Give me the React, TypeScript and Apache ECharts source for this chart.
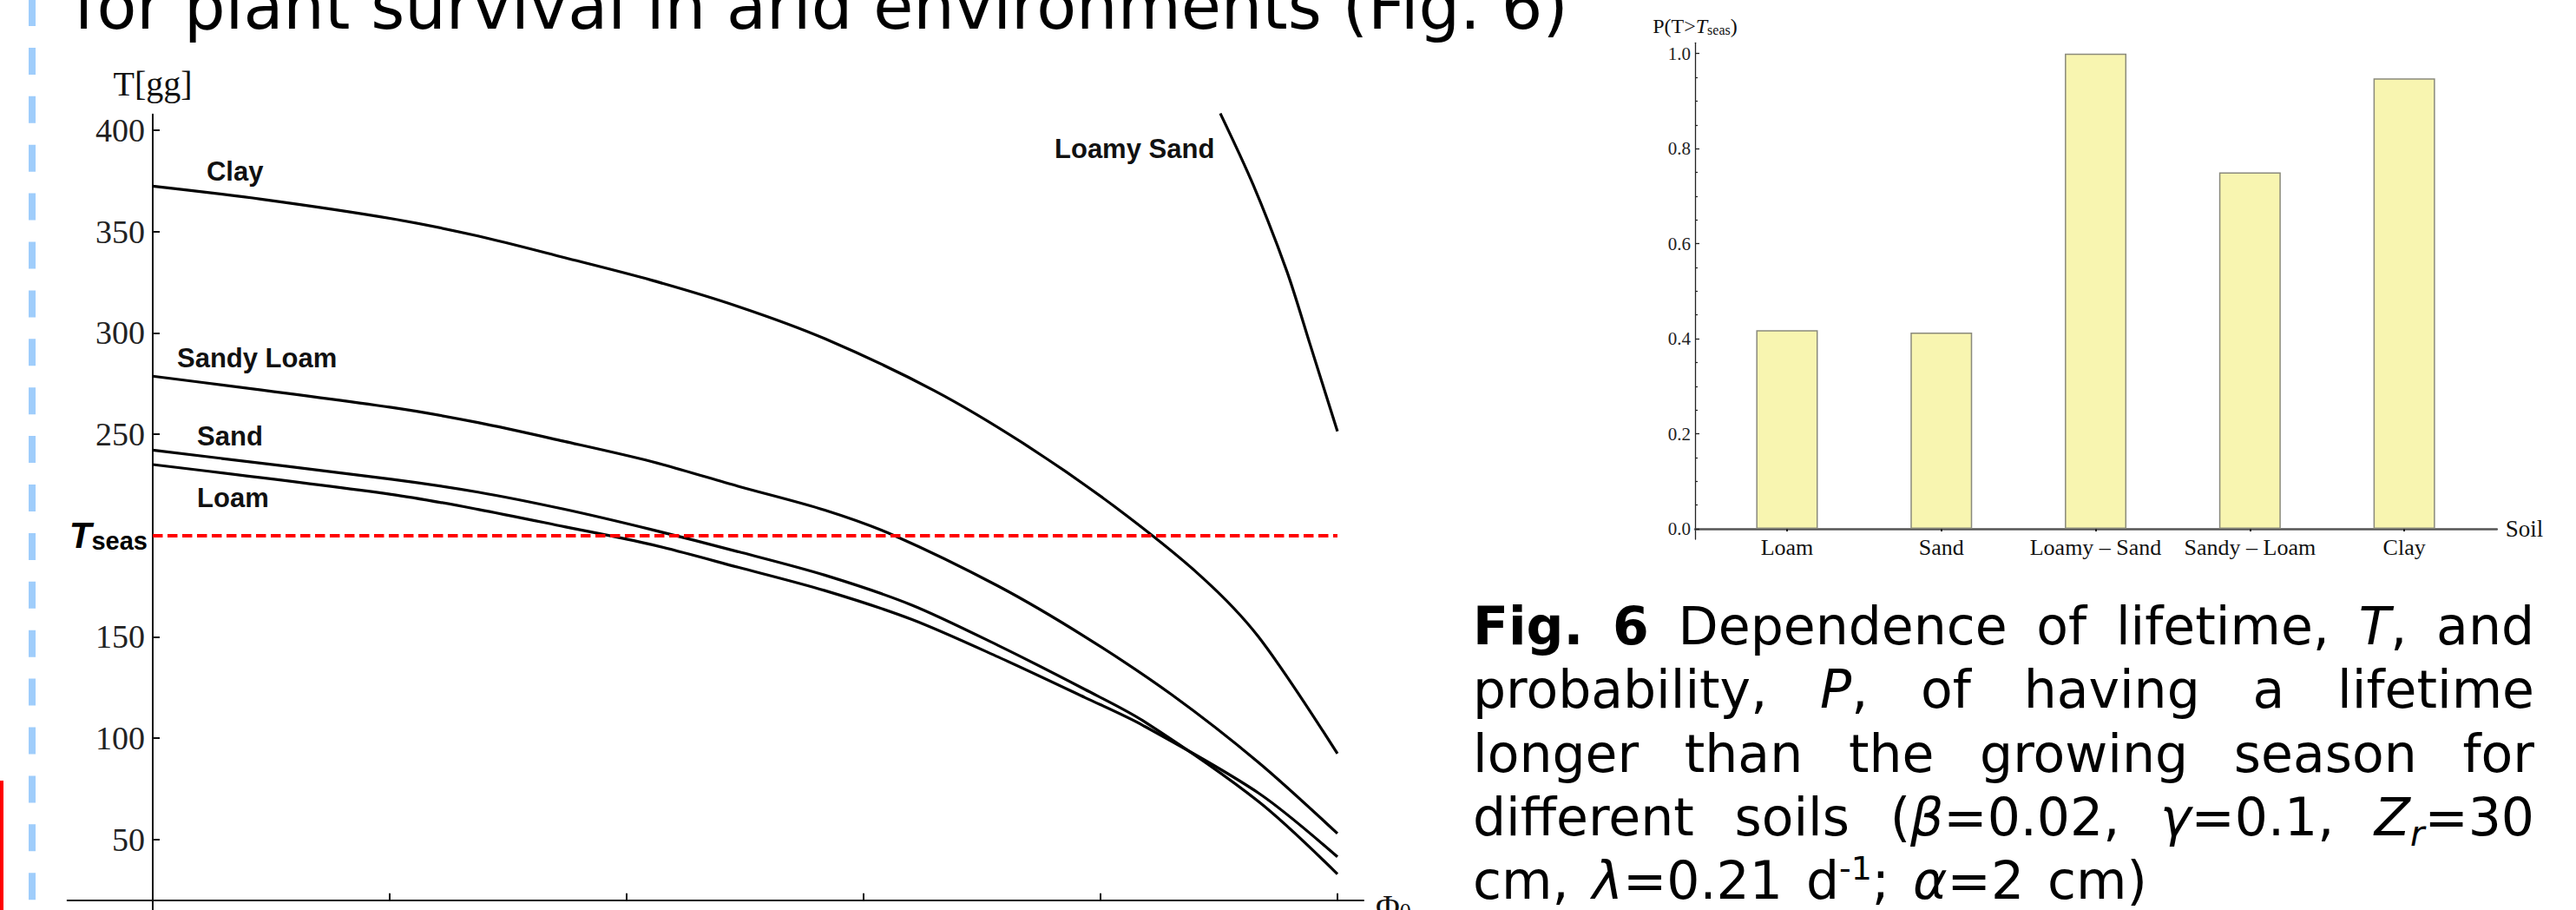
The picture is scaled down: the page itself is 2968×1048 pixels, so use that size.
import React, { useEffect, useRef } from "react";
import * as echarts from "echarts";

const FONT_SERIF = "'Liberation Serif', 'Times New Roman', serif";
const FONT_SANS = "'Liberation Sans', Arial, sans-serif";
const FONT_CAP = "'DejaVu Sans', Verdana, sans-serif";

// ---- Left panel: lifetime T [gg] vs Phi0 ----
const clay = [[0, 372.4], [0.0914, 366], [0.2013, 356.4], [0.2745, 347.8], [0.3477, 337.1], [0.4209, 326], [0.4941, 313], [0.5673, 297.1], [0.66, 271.4], [0.738, 244.3], [0.8113, 214.5], [0.8845, 180], [0.9333, 150], [1, 92.3]];
const sandyLoam = [[0, 278.6], [0.2013, 263.2], [0.2745, 255.7], [0.3477, 246.4], [0.4209, 236.5], [0.4941, 224.3], [0.5673, 212.5], [0.6258, 200], [0.7137, 175], [0.7869, 150], [0.8601, 121.4], [0.9333, 88], [1, 52.9]];
const sand = [[0, 242.1], [0.2013, 227.8], [0.2745, 221.4], [0.3477, 212.9], [0.4209, 202.9], [0.4941, 192], [0.5673, 180.4], [0.6405, 165.7], [0.7137, 145.7], [0.7869, 124], [0.8357, 108.6], [0.9333, 68.7], [1, 32.9]];
const loam = [[0, 235], [0.2013, 220.3], [0.2745, 212.9], [0.3477, 204.3], [0.4209, 195.5], [0.4941, 184.3], [0.5673, 172.8], [0.6405, 158.6], [0.7137, 140], [0.7869, 120], [0.8357, 106.3], [0.9333, 72.9], [1, 41.4]];
const loamySand = [[0.9011, 408.3], [0.9289, 373], [0.9575, 330.1], [0.9769, 294.3], [1, 251.4]];
const tSeas = 200;
const tLabelTicks = [50, 100, 150, 250, 300, 350, 400];
const phiTicks = [0.2, 0.4, 0.6, 0.8, 1.0];
const curveLabels = [
  { name: "Clay", x: 0.0454, y: 379.6 },
  { name: "Sandy Loam", x: 0.0205, y: 287.6 },
  { name: "Sand", x: 0.0374, y: 248.9 },
  { name: "Loam", x: 0.0374, y: 218.5 },
  { name: "Loamy Sand", x: 0.7612, y: 390.6 },
];

// ---- Right panel: P(T > Tseas) per soil ----
const soils = ["Loam", "Sand", "Loamy – Sand", "Sandy – Loam", "Clay"];
const probs = [0.418, 0.413, 1.0, 0.75, 0.948];
const probTicks = [0, 0.2, 0.4, 0.6, 0.8, 1.0];
const probMinorTicks = [0.05, 0.1, 0.15, 0.25, 0.3, 0.35, 0.45, 0.5, 0.55, 0.65, 0.7, 0.75, 0.85, 0.9, 0.95];

// ---- Texts ----
const titleText = "for plant survival in arid environments (Fig. 6)";
type Piece = [string, string];
const captionLines: Piece[][][] = [
  [[["Fig.", "b"]], [["6", "b"]], [["Dependence", "n"]], [["of", "n"]], [["lifetime,", "n"]], [["T", "i"], [",", "n"]], [["and", "n"]]],
  [[["probability,", "n"]], [["P", "i"], [",", "n"]], [["of", "n"]], [["having", "n"]], [["a", "n"]], [["lifetime", "n"]]],
  [[["longer", "n"]], [["than", "n"]], [["the", "n"]], [["growing", "n"]], [["season", "n"]], [["for", "n"]]],
  [[["different", "n"]], [["soils", "n"]], [["(", "n"], ["β", "i"], ["=0.02,", "n"]], [["γ", "i"], ["=0.1,", "n"]], [["Z", "i"], ["r", "sub"], ["=30", "n"]]],
  [[["cm,", "n"]], [["λ", "i"], ["=0.21", "n"]], [["d", "n"], ["-1", "sup"], [";", "n"]], [["α", "i"], ["=2", "n"]], [["cm)", "n"]]],
];

const CAP_FS = 60;
const CAP_LEFT = 1697;
const CAP_W = 1223;
const CAP_BASE0 = 741.7;
const CAP_STEP = 73.3;

function pieceStyle(k: string) {
  if (k === "b") return { size: CAP_FS, weight: "bold", style: "normal", dy: 0 };
  if (k === "i") return { size: CAP_FS, weight: "normal", style: "italic", dy: 0 };
  if (k === "sub") return { size: 40, weight: "normal", style: "italic", dy: 12 };
  if (k === "sup") return { size: 38, weight: "normal", style: "normal", dy: -22 };
  return { size: CAP_FS, weight: "normal", style: "normal", dy: 0 };
}

function buildCaption() {
  const ctx = document.createElement("canvas").getContext("2d")!;
  const measure = (t: string, k: string) => {
    const s = pieceStyle(k);
    ctx.font = `${s.style} ${s.weight} ${s.size}px "DejaVu Sans"`;
    return ctx.measureText(t).width;
  };
  const els: any[] = [];
  captionLines.forEach((line, li) => {
    const baseline = CAP_BASE0 + li * CAP_STEP;
    const widths = line.map((w) => w.reduce((s, [t, k]) => s + measure(t, k), 0));
    const total = widths.reduce((a, b) => a + b, 0);
    const justify = li < captionLines.length - 1;
    const gap = justify ? (CAP_W - total) / (line.length - 1) : CAP_FS * 0.45;
    let x = CAP_LEFT;
    line.forEach((word) => {
      word.forEach(([t, k]) => {
        const s = pieceStyle(k);
        els.push({
          type: "text",
          x,
          y: baseline + s.dy - 0.346 * s.size,
          silent: true,
          style: {
            text: t,
            fontFamily: FONT_CAP,
            fontSize: s.size,
            fontWeight: s.weight,
            fontStyle: s.style,
            fill: "#000",
            align: "left",
            verticalAlign: "middle",
          },
        });
        x += measure(t, k);
      });
      x += gap;
    });
  });
  return els;
}

const lineSeries = (name: string, data: number[][], extra: any = {}) => ({
  type: "line",
  name,
  xAxisIndex: 0,
  yAxisIndex: 0,
  data,
  smooth: 0.3,
  showSymbol: false,
  symbol: "none",
  lineStyle: { color: "#000", width: 3.2 },
  silent: true,
  ...extra,
});

export default function App() {
  const ref = useRef<HTMLDivElement>(null);
  useEffect(() => {
    const chart = echarts.init(ref.current!, null, { renderer: "svg" });
    const option: any = {
      animation: false,
      backgroundColor: "#ffffff",
      grid: [
        { left: 77.7, top: 131.7, width: 1493.3, height: 916.3, containLabel: false, outerBoundsMode: "none" },
        { left: 1953, top: 49.3, width: 923.8, height: 571.7, containLabel: false, outerBoundsMode: "none" },
      ],
      xAxis: [
        {
          type: "value",
          gridIndex: 0,
          min: -0.072,
          max: 1.022,
          position: "bottom",
          offset: -11.3,
          axisLine: { onZero: false, lineStyle: { color: "#111", width: 2 } },
          axisTick: { show: true, inside: true, length: 8, customValues: phiTicks, lineStyle: { color: "#111", width: 2 } },
          axisLabel: { show: false },
          splitLine: { show: false },
          name: "{p|Φ}{s|0}",
          nameLocation: "end",
          nameGap: 14,
          nameTextStyle: {
            padding: [14, 0, 0, 0],
            rich: {
              p: { fontFamily: FONT_SERIF, fontSize: 38, color: "#111", lineHeight: 38 },
              s: { fontFamily: FONT_SERIF, fontSize: 26, color: "#111", verticalAlign: "bottom", lineHeight: 22 },
            },
          },
        },
        {
          type: "value",
          gridIndex: 1,
          min: 0.404,
          max: 5.6,
          position: "bottom",
          offset: -12,
          axisLine: { onZero: false, lineStyle: { color: "#555", width: 2.5 } },
          axisTick: { show: true, inside: false, length: 3, customValues: [1, 2, 3, 4, 5], lineStyle: { color: "#222", width: 2 } },
          axisLabel: {
            customValues: [1, 2, 3, 4, 5],
            formatter: (v: number) => soils[Math.round(v) - 1] || "",
            margin: 8,
            fontFamily: FONT_SERIF,
            fontSize: 26,
            color: "#111",
          },
          splitLine: { show: false },
          name: "Soil",
          nameLocation: "end",
          nameGap: 10,
          nameTextStyle: { fontFamily: FONT_SERIF, fontSize: 27, color: "#111", verticalAlign: "middle" },
        },
      ],
      yAxis: [
        {
          type: "value",
          gridIndex: 0,
          min: 15.14,
          max: 407.84,
          position: "left",
          offset: -98.3,
          axisLine: { onZero: false, lineStyle: { color: "#111", width: 2 } },
          axisTick: { show: true, inside: true, length: 8, customValues: tLabelTicks, lineStyle: { color: "#111", width: 2 } },
          axisLabel: { customValues: tLabelTicks, margin: 9, fontFamily: FONT_SERIF, fontSize: 38, color: "#222" },
          splitLine: { show: false },
          name: "T[gg]",
          nameLocation: "end",
          nameGap: 15,
          nameTextStyle: { fontFamily: FONT_SERIF, fontSize: 40, color: "#111" },
        },
        {
          type: "value",
          gridIndex: 1,
          min: -0.0219,
          max: 1.0227,
          position: "left",
          axisLine: { onZero: false, lineStyle: { color: "#222", width: 1.3 } },
          axisTick: { show: true, inside: true, length: 5, customValues: probTicks, lineStyle: { color: "#222", width: 1.3 } },
          axisLabel: {
            customValues: probTicks,
            formatter: (v: number) => v.toFixed(1),
            margin: 5,
            fontFamily: FONT_SERIF,
            fontSize: 21,
            color: "#222",
          },
          splitLine: { show: false },
          name: "{a|P(T>}{i|T}{s|seas}{a|)}",
          nameLocation: "end",
          nameGap: 7,
          nameTextStyle: {
            rich: {
              a: { fontFamily: FONT_SERIF, fontSize: 24, color: "#111", lineHeight: 24 },
              i: { fontFamily: FONT_SERIF, fontSize: 24, fontStyle: "italic", color: "#111", lineHeight: 24 },
              s: { fontFamily: FONT_SERIF, fontSize: 16, color: "#111", verticalAlign: "bottom", lineHeight: 12 },
            },
          },
        },
        {
          type: "value",
          gridIndex: 1,
          min: -0.0219,
          max: 1.0227,
          position: "left",
          axisLine: { show: false, onZero: false },
          axisTick: { show: true, inside: true, length: 3, customValues: probMinorTicks, lineStyle: { color: "#222", width: 1.2 } },
          axisLabel: { show: false },
          splitLine: { show: false },
        },
      ],
      series: [
        lineSeries("Clay", clay, {
          markLine: {
            silent: true,
            symbol: ["none", "none"],
            lineStyle: { color: "#ff0000", type: [11.5, 5.5], width: 4 },
            label: {
              show: true,
              position: "start",
              distance: 6,
              formatter: "{t|T}{s|seas}",
              rich: {
                t: { fontFamily: FONT_SANS, fontSize: 42, fontWeight: "bold", fontStyle: "italic", color: "#000", lineHeight: 42 },
                s: { fontFamily: FONT_SANS, fontSize: 29, fontWeight: "bold", color: "#000", verticalAlign: "bottom", lineHeight: 16 },
              },
            },
            data: [[{ coord: [0, tSeas] }, { coord: [1, tSeas] }]],
          },
        }),
        lineSeries("Sandy Loam", sandyLoam),
        lineSeries("Sand", sand),
        lineSeries("Loam", loam),
        lineSeries("Loamy Sand", loamySand),
        {
          type: "bar",
          name: "P",
          xAxisIndex: 1,
          yAxisIndex: 1,
          data: soils.map((s, i) => [i + 1, probs[i]]),
          barWidth: 71,
          silent: true,
          itemStyle: { color: "#f8f5b0", borderColor: "#8a8a7c", borderWidth: 1.5 },
        },
      ],
    };
    chart.setOption(option);

    const staticGraphics: any[] = [
      {
        type: "line",
        silent: true,
        shape: { x1: 37, y1: -1, x2: 37, y2: 1070 },
        style: { stroke: "#9fcdfb", lineWidth: 8, lineDash: [31, 24.9] },
      },
      {
        type: "rect",
        silent: true,
        shape: { x: -20, y: 901, width: 22, height: 200 },
        style: { fill: "none", stroke: "#ff0000", lineWidth: 4 },
      },
      {
        type: "text",
        silent: true,
        x: 85,
        y: 32.5 - 0.346 * 75,
        style: { text: titleText, fontFamily: FONT_CAP, fontSize: 75, fill: "#000", align: "left", verticalAlign: "middle" },
      },
    ];
    const labelGraphics = curveLabels.map((l) => {
      const p = chart.convertToPixel({ gridIndex: 0 }, [l.x, l.y]) as number[];
      return {
        type: "text",
        silent: true,
        x: p[0],
        y: p[1],
        style: { text: l.name, fontFamily: FONT_SANS, fontWeight: "bold", fontSize: 31, fill: "#111", align: "left", verticalAlign: "middle" },
      };
    });
    chart.setOption({ graphic: [...staticGraphics, ...buildCaption(), ...labelGraphics] });
    return () => chart.dispose();
  }, []);
  return <div ref={ref} style={{ position: "absolute", left: 0, top: 0, width: 2968, height: 1048 }} />;
}
